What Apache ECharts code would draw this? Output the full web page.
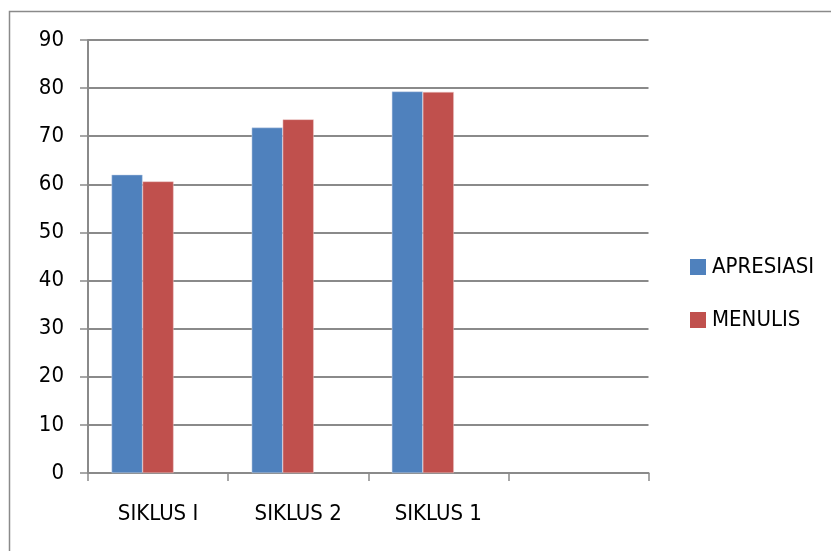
<!DOCTYPE html>
<html><head><meta charset="utf-8">
<script src="https://cdn.jsdelivr.net/npm/echarts@6/dist/echarts.min.js"></script>
<style>html,body{margin:0;padding:0;background:#fff}#c{width:831px;height:551px}</style>
</head><body><div id="c"></div>
<script>
var categories = ['SIKLUS I', 'SIKLUS 2', 'SIKLUS 1', ''];
var apresiasi = [62, 71.8, 79.3, null];
var menulis = [60.6, 73.5, 79.2, null];
var emptySeries = [null, null, null, null];
var yTicks = {min: 0, max: 90, interval: 10};

var FONT = '"DejaVu Sans Condensed", "Liberation Sans Narrow", sans-serif';
var chart = echarts.init(document.getElementById('c'));
chart.setOption({
  animation: false,
  textStyle: {fontFamily: FONT},
  graphic: [{
    type: 'rect', silent: true,
    shape: {x: 9.5, y: 11.5, width: 900, height: 700},
    style: {fill: 'none', stroke: '#8a8a8a', lineWidth: 1.5}
  }],
  grid: {left: 88, right: 182.5, top: 40, bottom: 78},
  legend: {
    orient: 'vertical', left: 685, top: 251,
    itemWidth: 16, itemHeight: 16, itemGap: 31,
    icon: 'rect',
    itemStyle: {borderWidth: 0},
    data: ['APRESIASI', 'MENULIS'],
    textStyle: {fontFamily: FONT, fontSize: 22, color: '#000', padding: [0,0,0,1]}
  },
  xAxis: {
    type: 'category', data: categories, boundaryGap: true,
    axisLine: {lineStyle: {color: '#8a8a8a', width: 2}},
    axisTick: {show: true, length: 8, interval: 0, lineStyle: {color: '#8a8a8a', width: 1.5}},
    axisLabel: {interval: 0, margin: 30, fontFamily: FONT, fontSize: 22, color: '#000'}
  },
  yAxis: {
    type: 'value', min: yTicks.min, max: yTicks.max, interval: yTicks.interval,
    axisLine: {show: true, lineStyle: {color: '#8a8a8a', width: 2}},
    axisTick: {show: true, length: 8, lineStyle: {color: '#8a8a8a', width: 1.5}},
    splitLine: {lineStyle: {color: '#8a8a8a', width: 2}},
    axisLabel: {margin: 24, fontFamily: FONT, fontSize: 22, color: '#000'}
  },
  series: [
    {name: 'APRESIASI', type: 'bar', data: apresiasi, barWidth: 31, barGap: '0%',
     itemStyle: {color: '#4F81BD', borderColor: '#c9d7ea', borderWidth: 0.5}},
    {name: 'MENULIS', type: 'bar', data: menulis, barWidth: 31, barGap: '0%',
     itemStyle: {color: '#C0504D', borderColor: '#ecc9c8', borderWidth: 0.5}},
    {name: '_empty', type: 'bar', data: emptySeries, barWidth: 31, barGap: '0%',
     itemStyle: {color: '#9BBB59'}}
  ]
});
</script></body></html>
